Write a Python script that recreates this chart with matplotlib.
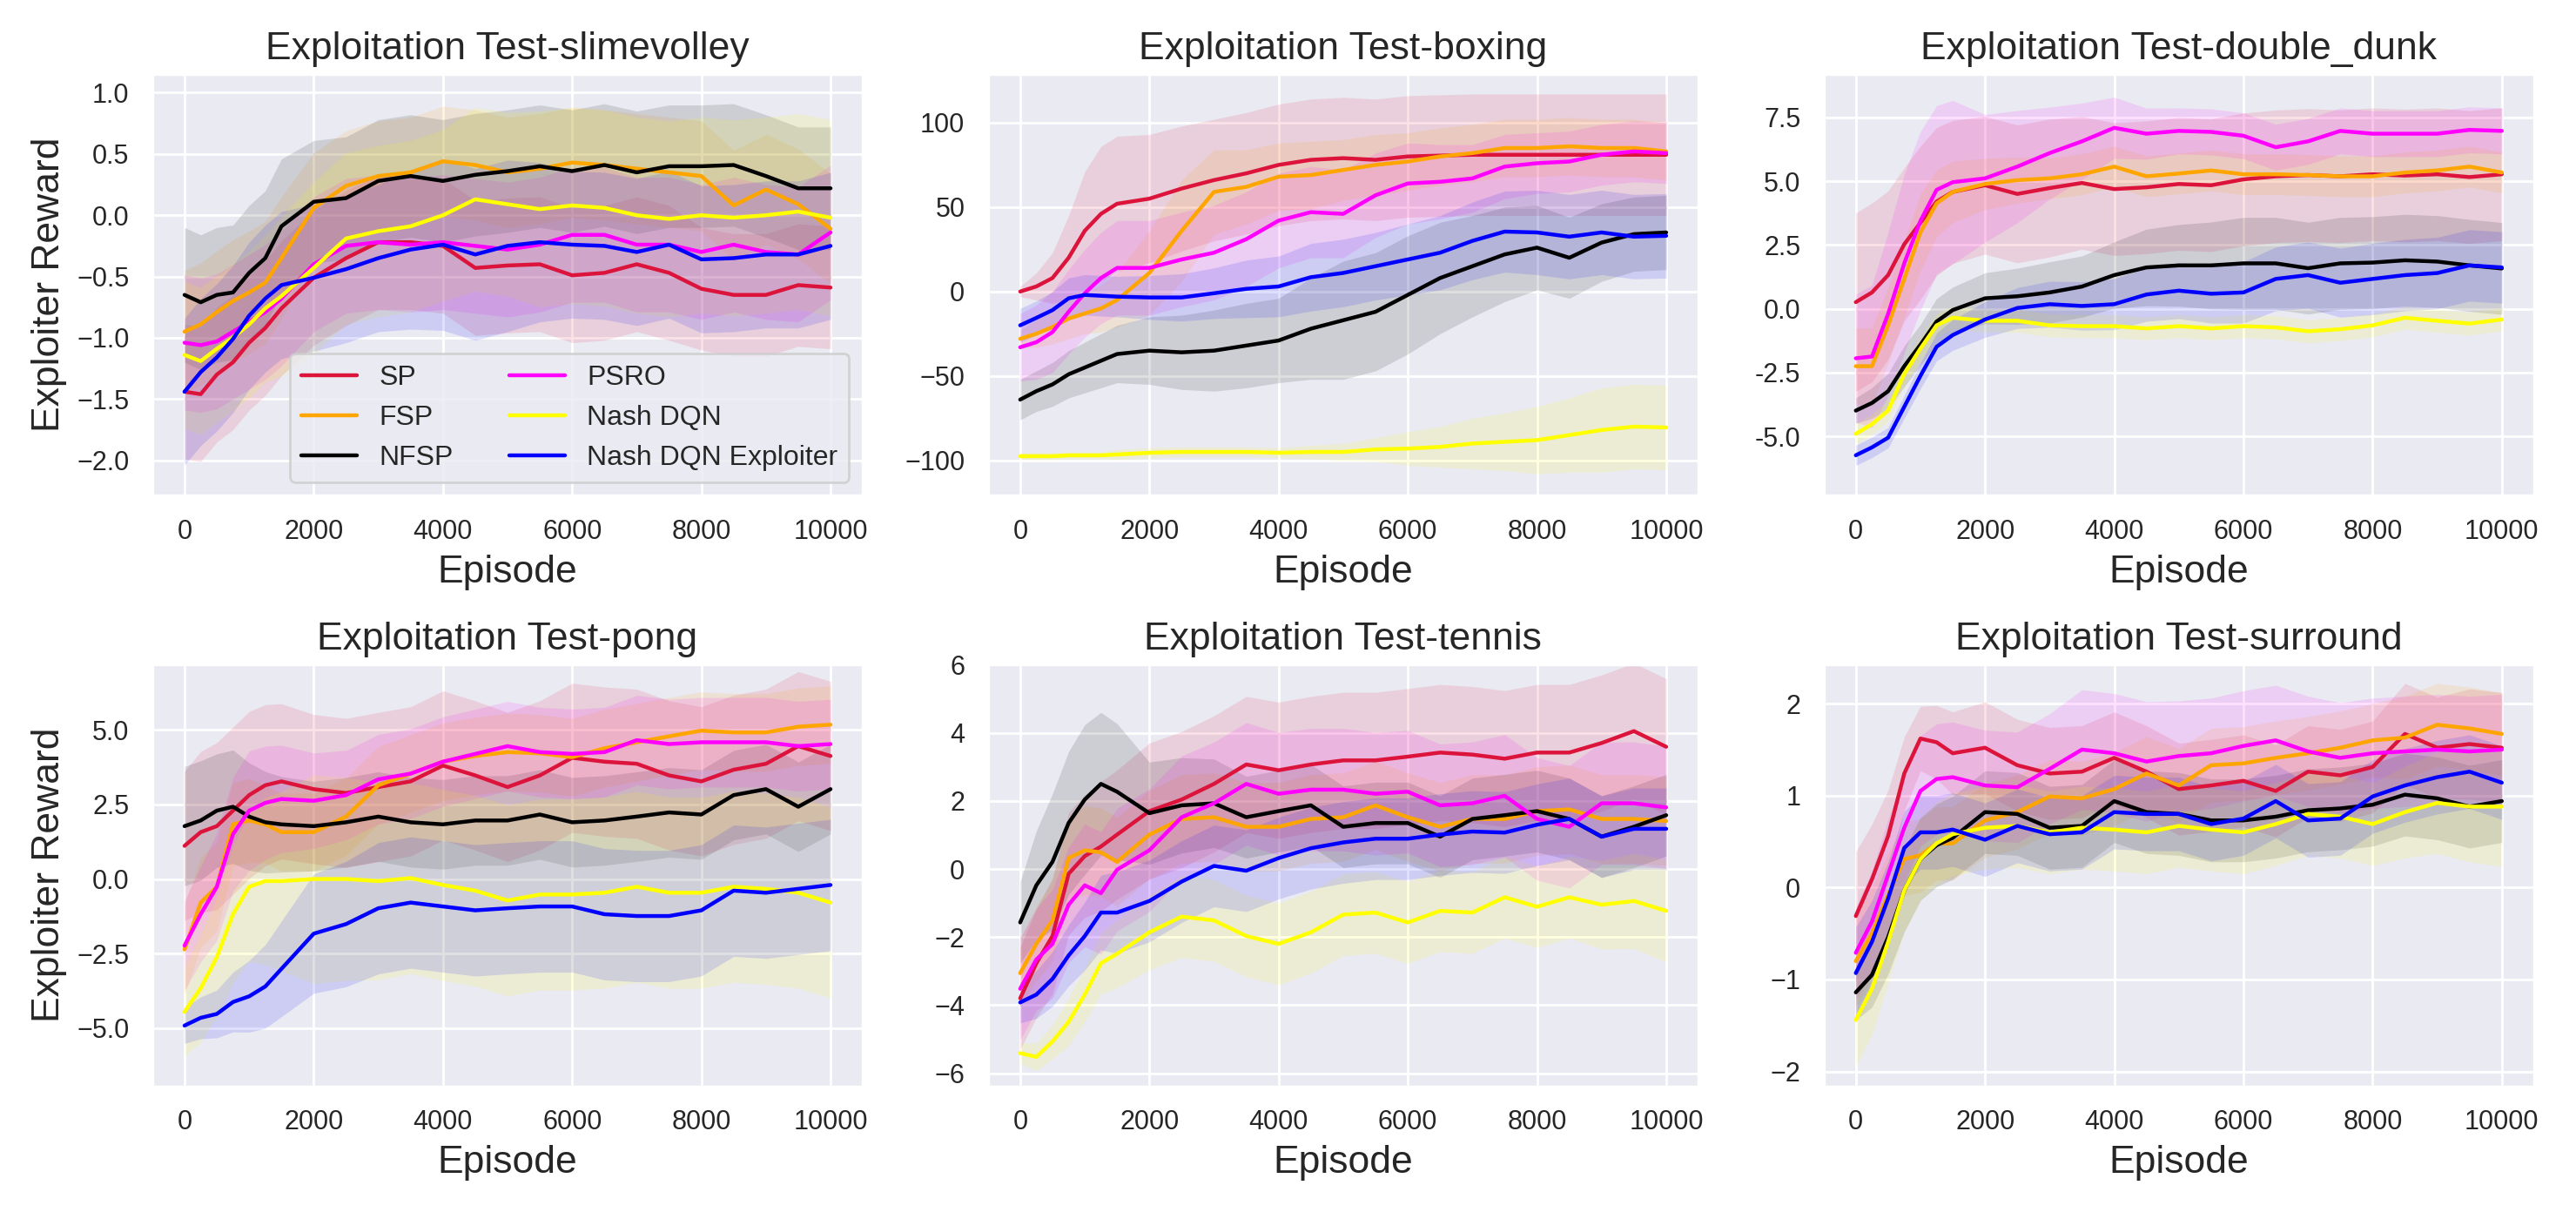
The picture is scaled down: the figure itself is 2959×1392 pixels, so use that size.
import numpy as np
import matplotlib
matplotlib.use("Agg")
import matplotlib.pyplot as plt
import seaborn as sns

episodes = [0, 250, 500, 750, 1000, 1250, 1500, 2000, 2500, 3000, 3500, 4000,
            4500, 5000, 5500, 6000, 6500, 7000, 7500, 8000, 8500, 9000, 9500, 10000]

methods = ["SP", "FSP", "NFSP", "PSRO", "Nash DQN", "Nash DQN Exploiter"]
colors = ["crimson", "orange", "black", "magenta", "yellow", "blue"]
games = ["slimevolley", "boxing", "double_dunk", "pong", "tennis", "surround"]

# mean exploiter reward, one row per method (order as in `methods`)
slimevolley_mean = [
    [-1.44, -1.46, -1.30, -1.20, -1.04, -0.92, -0.76, -0.51, -0.35, -0.22, -0.22, -0.25,
     -0.43, -0.41, -0.40, -0.49, -0.47, -0.40, -0.47, -0.60, -0.65, -0.65, -0.57, -0.59],
    [-0.95, -0.89, -0.79, -0.70, -0.63, -0.55, -0.35, 0.06, 0.24, 0.32, 0.35, 0.44,
     0.41, 0.35, 0.38, 0.43, 0.41, 0.38, 0.35, 0.32, 0.08, 0.21, 0.09, -0.11],
    [-0.65, -0.71, -0.65, -0.63, -0.47, -0.35, -0.09, 0.11, 0.14, 0.28, 0.32, 0.28,
     0.33, 0.36, 0.40, 0.36, 0.41, 0.35, 0.40, 0.40, 0.41, 0.32, 0.22, 0.22],
    [-1.04, -1.06, -1.03, -0.95, -0.87, -0.79, -0.68, -0.40, -0.25, -0.22, -0.24, -0.22,
     -0.25, -0.28, -0.24, -0.16, -0.16, -0.24, -0.24, -0.30, -0.24, -0.30, -0.32, -0.14],
    [-1.14, -1.19, -1.09, -1.00, -0.89, -0.76, -0.66, -0.43, -0.19, -0.13, -0.09, 0.00,
     0.13, 0.09, 0.05, 0.08, 0.06, 0.00, -0.03, 0.00, -0.02, 0.00, 0.03, -0.02],
    [-1.44, -1.28, -1.16, -1.01, -0.82, -0.68, -0.57, -0.51, -0.44, -0.35, -0.28, -0.24,
     -0.32, -0.25, -0.22, -0.24, -0.25, -0.30, -0.24, -0.36, -0.35, -0.32, -0.32, -0.25],
]
slimevolley_std = [
    [0.55, 0.55, 0.55, 0.55, 0.55, 0.55, 0.55, 0.55, 0.55, 0.55, 0.55, 0.55,
     0.55, 0.55, 0.55, 0.55, 0.55, 0.55, 0.55, 0.5, 0.5, 0.5, 0.5, 0.5],
    [0.5, 0.5, 0.5, 0.5, 0.5, 0.5, 0.5, 0.45, 0.45, 0.45, 0.45, 0.45,
     0.45, 0.45, 0.45, 0.45, 0.45, 0.45, 0.45, 0.45, 0.45, 0.45, 0.45, 0.45],
    [0.55, 0.55, 0.55, 0.55, 0.55, 0.55, 0.55, 0.5, 0.5, 0.5, 0.5, 0.5,
     0.5, 0.5, 0.5, 0.5, 0.5, 0.5, 0.5, 0.5, 0.5, 0.5, 0.5, 0.5],
    [0.55, 0.55, 0.55, 0.55, 0.55, 0.55, 0.55, 0.55, 0.55, 0.55, 0.55, 0.55,
     0.55, 0.55, 0.55, 0.55, 0.55, 0.55, 0.55, 0.55, 0.55, 0.55, 0.55, 0.55],
    [0.6, 0.6, 0.6, 0.6, 0.6, 0.6, 0.65, 0.7, 0.7, 0.7, 0.7, 0.7,
     0.75, 0.75, 0.8, 0.8, 0.8, 0.8, 0.8, 0.8, 0.8, 0.8, 0.8, 0.8],
    [0.6, 0.6, 0.6, 0.6, 0.6, 0.6, 0.6, 0.6, 0.6, 0.6, 0.65, 0.7,
     0.7, 0.7, 0.65, 0.6, 0.6, 0.6, 0.6, 0.6, 0.6, 0.6, 0.6, 0.6],
]

boxing_mean = [
    [0, 3, 8, 20, 36, 46, 52, 55, 61, 66, 70, 75, 78, 79, 78, 80, 80.5, 81, 81, 81, 81, 81, 81, 81],
    [-28, -25, -21, -16, -13, -10, -5, 11, 36, 59, 62, 68, 69, 72, 75, 77, 80, 82, 85, 85, 86, 85, 85, 83],
    [-64, -59, -55, -49, -45, -41, -37, -35, -36, -35, -32, -29, -22, -17, -12, -2, 8, 15, 22, 26, 20, 29, 34, 35],
    [-33, -30, -24, -12, -1, 8, 14, 14, 19, 23, 31, 42, 47, 46, 57, 64, 65, 67, 74, 76, 77, 81, 83, 82],
    [-97.5, -97.5, -97.5, -97, -97, -97, -96.5, -95.5, -95, -95, -95, -95.5,
     -95, -95, -93.5, -93, -92, -90, -89, -88, -85, -82, -80, -80.5],
    [-20, -15.6, -11, -4, -2, -2.5, -3, -3.5, -3.5, -1, 1.6, 3, 8.5, 11, 15, 19, 23, 30, 35.5, 35, 32.5, 35, 32.5, 33],
]
boxing_std = [
    [3, 8, 15, 25, 35, 40, 40, 38, 37, 36, 36, 36, 36, 36, 36, 36, 36, 36, 36, 36, 36, 36, 36, 36],
    [5, 8, 10, 12, 12, 14, 16, 25, 30, 25, 22, 20, 20, 18, 18, 17, 17, 17, 17, 17, 17, 17, 17, 17],
    [12, 12, 13, 14, 15, 16, 17, 20, 22, 24, 25, 25, 30, 35, 35, 35, 33, 30, 28, 25, 24, 23, 22, 22],
    [20, 22, 24, 25, 26, 27, 28, 28, 28, 28, 28, 28, 27, 26, 25, 24, 22, 20, 19, 18, 18, 18, 18, 18],
    [2, 2, 2, 2, 2, 2, 3, 3, 3, 3, 3, 3, 4, 5, 7, 10, 12, 15, 17, 20, 22, 25, 25, 25],
    [10, 10, 11, 12, 12, 12, 12, 13, 14, 15, 17, 18, 20, 20, 20, 21, 22, 23, 24, 25, 25, 25, 25, 25],
]

double_dunk_mean = [
    [0.26, 0.64, 1.32, 2.53, 3.37, 4.20, 4.58, 4.84, 4.50, 4.73, 4.93, 4.69,
     4.76, 4.89, 4.84, 5.07, 5.19, 5.24, 5.19, 5.27, 5.22, 5.27, 5.16, 5.27],
    [-2.25, -2.25, -0.65, 1.17, 2.99, 4.13, 4.58, 4.89, 5.04, 5.11, 5.27, 5.57,
     5.19, 5.30, 5.42, 5.27, 5.27, 5.24, 5.19, 5.19, 5.34, 5.42, 5.57, 5.34],
    [-3.99, -3.69, -3.23, -2.25, -1.41, -0.50, -0.05, 0.41, 0.49, 0.64, 0.87, 1.32,
     1.62, 1.70, 1.70, 1.78, 1.78, 1.59, 1.78, 1.81, 1.90, 1.85, 1.70, 1.58],
    [-1.94, -1.87, -0.20, 1.78, 3.44, 4.66, 4.96, 5.11, 5.57, 6.10, 6.56, 7.09,
     6.86, 6.97, 6.93, 6.78, 6.33, 6.56, 6.97, 6.86, 6.86, 6.86, 7.01, 6.97],
    [-4.90, -4.52, -3.99, -2.55, -1.56, -0.65, -0.35, -0.47, -0.47, -0.65, -0.68, -0.68,
     -0.77, -0.68, -0.77, -0.68, -0.73, -0.88, -0.80, -0.65, -0.35, -0.47, -0.58, -0.42],
    [-5.74, -5.43, -5.05, -3.84, -2.63, -1.49, -1.03, -0.42, 0.03, 0.18, 0.11, 0.18,
     0.56, 0.71, 0.59, 0.64, 1.17, 1.32, 1.02, 1.17, 1.32, 1.40, 1.70, 1.62],
]
double_dunk_std = [
    [3.5, 3.5, 3.3, 3.0, 3.0, 2.9, 2.8, 2.7, 2.7, 2.7, 2.6, 2.6, 2.6, 2.6, 2.6, 2.6, 2.6, 2.6, 2.6, 2.6, 2.6, 2.6, 2.6, 2.6],
    [1.5, 1.5, 1.5, 1.5, 1.5, 1.3, 1.2, 1.0, 0.9, 0.8, 0.8, 0.8, 0.8, 0.8, 0.8, 0.8, 0.8, 0.8, 0.8, 0.8, 0.8, 0.8, 0.8, 0.8],
    [0.5, 0.6, 0.7, 0.8, 0.8, 0.9, 0.9, 1.0, 1.1, 1.2, 1.2, 1.3, 1.5, 1.6, 1.7, 1.8, 1.8, 1.8, 1.8, 1.8, 1.8, 1.8, 1.8, 1.8],
    [2.5, 2.8, 3.2, 3.5, 3.5, 3.3, 3.2, 2.5, 2.2, 1.8, 1.5, 1.2, 1.0, 0.9, 0.9, 0.9, 0.9, 0.9, 0.9, 0.9, 0.9, 0.9, 0.9, 0.9],
    [0.4, 0.4, 0.4, 0.45, 0.45, 0.45, 0.45, 0.45, 0.45, 0.45, 0.45, 0.45, 0.45, 0.45, 0.45, 0.45, 0.45, 0.45, 0.45, 0.45, 0.45, 0.45, 0.45, 0.45],
    [0.4, 0.4, 0.4, 0.45, 0.5, 0.55, 0.6, 0.7, 0.8, 0.9, 0.95, 1.0, 1.05, 1.1, 1.15, 1.2, 1.25, 1.3, 1.35, 1.4, 1.4, 1.4, 1.4, 1.4],
]

pong_mean = [
    [1.11, 1.57, 1.77, 2.29, 2.81, 3.14, 3.27, 3.01, 2.88, 3.08, 3.27, 3.80,
     3.47, 3.08, 3.47, 4.06, 3.93, 3.86, 3.47, 3.27, 3.66, 3.86, 4.45, 4.12],
    [-2.36, -0.79, -0.26, 1.83, 1.96, 1.83, 1.57, 1.57, 2.09, 3.14, 3.53, 3.93,
     4.12, 4.25, 4.21, 4.08, 4.38, 4.58, 4.78, 4.97, 4.91, 4.91, 5.10, 5.17],
    [1.77, 1.96, 2.29, 2.42, 2.09, 1.90, 1.83, 1.77, 1.90, 2.09, 1.90, 1.83,
     1.96, 1.96, 2.16, 1.90, 1.96, 2.09, 2.23, 2.16, 2.81, 3.01, 2.42, 3.01],
    [-2.23, -1.18, -0.26, 1.50, 2.29, 2.55, 2.68, 2.62, 2.81, 3.34, 3.53, 3.93,
     4.19, 4.45, 4.25, 4.19, 4.25, 4.65, 4.52, 4.58, 4.58, 4.58, 4.45, 4.52],
    [-4.45, -3.66, -2.62, -1.18, -0.26, -0.07, -0.07, 0.00, 0.00, -0.07, 0.03, -0.20,
     -0.39, -0.72, -0.52, -0.52, -0.46, -0.26, -0.46, -0.46, -0.26, -0.33, -0.46, -0.79],
    [-4.91, -4.65, -4.52, -4.12, -3.93, -3.60, -3.01, -1.83, -1.51, -0.98, -0.79, -0.92,
     -1.05, -0.98, -0.92, -0.92, -1.18, -1.24, -1.24, -1.05, -0.39, -0.46, -0.33, -0.20],
]
pong_std = [
    [2.5, 2.7, 2.8, 2.8, 2.8, 2.7, 2.6, 2.5, 2.5, 2.5, 2.5, 2.5, 2.5, 2.5, 2.5, 2.5, 2.5, 2.5, 2.5, 2.5, 2.5, 2.5, 2.5, 2.5],
    [1.5, 1.5, 1.5, 1.4, 1.4, 1.3, 1.3, 1.3, 1.3, 1.3, 1.3, 1.3, 1.3, 1.3, 1.3, 1.3, 1.3, 1.3, 1.3, 1.3, 1.3, 1.3, 1.3, 1.3],
    [2.0, 2.0, 1.9, 1.9, 1.8, 1.7, 1.6, 1.5, 1.5, 1.5, 1.5, 1.5, 1.5, 1.5, 1.5, 1.5, 1.5, 1.5, 1.5, 1.5, 1.5, 1.5, 1.5, 1.5],
    [1.5, 1.6, 1.8, 1.9, 2.0, 1.9, 1.8, 1.6, 1.5, 1.5, 1.5, 1.5, 1.5, 1.5, 1.5, 1.5, 1.5, 1.5, 1.5, 1.5, 1.5, 1.5, 1.5, 1.5],
    [1.5, 1.8, 2.0, 2.3, 2.5, 2.8, 3.0, 3.5, 3.4, 3.3, 3.2, 3.2, 3.2, 3.2, 3.2, 3.2, 3.2, 3.2, 3.2, 3.2, 3.2, 3.2, 3.2, 3.2],
    [0.6, 0.7, 0.8, 1.0, 1.2, 1.4, 1.6, 2.0, 2.1, 2.2, 2.2, 2.2, 2.2, 2.2, 2.2, 2.2, 2.2, 2.2, 2.2, 2.2, 2.2, 2.2, 2.2, 2.2],
]

tennis_mean = [
    [-3.80, -2.77, -1.97, -0.14, 0.38, 0.66, 1.01, 1.70, 2.04, 2.50, 3.07, 2.90,
     3.07, 3.19, 3.19, 3.30, 3.42, 3.36, 3.24, 3.42, 3.42, 3.70, 4.05, 3.59],
    [-3.06, -2.20, -1.51, 0.32, 0.55, 0.49, 0.21, 1.01, 1.47, 1.52, 1.24, 1.24,
     1.47, 1.52, 1.87, 1.52, 1.24, 1.47, 1.47, 1.70, 1.75, 1.47, 1.47, 1.41],
    [-1.57, -0.48, 0.21, 1.35, 2.04, 2.50, 2.27, 1.64, 1.87, 1.93, 1.52, 1.70,
     1.87, 1.24, 1.35, 1.35, 0.95, 1.47, 1.58, 1.70, 1.47, 0.95, 1.24, 1.58],
    [-3.52, -2.66, -2.20, -1.05, -0.48, -0.71, -0.02, 0.55, 1.52, 1.93, 2.50, 2.21,
     2.33, 2.33, 2.21, 2.27, 1.87, 1.93, 2.15, 1.47, 1.24, 1.93, 1.93, 1.81],
    [-5.41, -5.52, -5.07, -4.49, -3.69, -2.77, -2.49, -1.86, -1.40, -1.51, -1.97, -2.20,
     -1.86, -1.34, -1.28, -1.57, -1.23, -1.28, -0.83, -1.11, -0.83, -1.05, -0.94, -1.23],
    [-3.92, -3.69, -3.23, -2.54, -1.97, -1.28, -1.28, -0.94, -0.37, 0.09, -0.05, 0.32,
     0.61, 0.78, 0.89, 0.89, 1.01, 1.10, 1.07, 1.30, 1.47, 0.95, 1.18, 1.18],
]
tennis_std = [
    [1.5, 1.6, 1.7, 1.8, 1.8, 1.9, 1.9, 2.0, 2.0, 2.0, 2.0, 2.0, 2.0, 2.0, 2.0, 2.0, 2.0, 2.0, 2.0, 2.0, 2.0, 2.0, 2.0, 2.0],
    [1.0, 1.1, 1.2, 1.2, 1.3, 1.3, 1.3, 1.3, 1.3, 1.3, 1.3, 1.3, 1.3, 1.3, 1.3, 1.3, 1.3, 1.3, 1.3, 1.3, 1.3, 1.3, 1.3, 1.3],
    [1.2, 1.6, 2.0, 2.1, 2.2, 2.1, 2.0, 1.5, 1.4, 1.3, 1.2, 1.2, 1.2, 1.2, 1.2, 1.2, 1.2, 1.2, 1.2, 1.2, 1.2, 1.2, 1.2, 1.2],
    [1.5, 1.5, 1.6, 1.7, 1.8, 1.8, 1.8, 1.8, 1.8, 1.8, 1.8, 1.8, 1.8, 1.8, 1.8, 1.8, 1.8, 1.8, 1.8, 1.8, 1.8, 1.8, 1.8, 1.8],
    [0.3, 0.4, 0.5, 0.7, 0.8, 0.9, 1.0, 1.1, 1.2, 1.2, 1.2, 1.2, 1.2, 1.2, 1.2, 1.2, 1.2, 1.2, 1.2, 1.2, 1.2, 1.3, 1.4, 1.5],
    [0.6, 0.7, 0.8, 0.9, 1.0, 1.1, 1.2, 1.2, 1.2, 1.2, 1.2, 1.2, 1.2, 1.2, 1.2, 1.2, 1.2, 1.2, 1.2, 1.2, 1.2, 1.2, 1.2, 1.2],
]

surround_mean = [
    [-0.31, 0.09, 0.56, 1.24, 1.62, 1.58, 1.46, 1.52, 1.33, 1.24, 1.26, 1.41,
     1.26, 1.07, 1.11, 1.16, 1.05, 1.26, 1.22, 1.31, 1.67, 1.52, 1.56, 1.52],
    [-0.80, -0.50, -0.08, 0.31, 0.35, 0.48, 0.48, 0.73, 0.82, 0.99, 0.97, 1.07,
     1.24, 1.11, 1.33, 1.35, 1.41, 1.46, 1.52, 1.60, 1.63, 1.77, 1.73, 1.67],
    [-1.14, -0.95, -0.54, -0.03, 0.31, 0.46, 0.54, 0.82, 0.80, 0.65, 0.67, 0.94,
     0.82, 0.80, 0.73, 0.73, 0.77, 0.84, 0.86, 0.90, 1.01, 0.97, 0.88, 0.94],
    [-0.71, -0.37, 0.14, 0.65, 1.05, 1.18, 1.20, 1.11, 1.09, 1.29, 1.50, 1.46,
     1.37, 1.43, 1.46, 1.54, 1.60, 1.48, 1.41, 1.46, 1.48, 1.50, 1.48, 1.50],
    [-1.44, -1.10, -0.59, -0.03, 0.31, 0.48, 0.58, 0.65, 0.67, 0.60, 0.65, 0.63,
     0.60, 0.67, 0.63, 0.60, 0.69, 0.80, 0.77, 0.69, 0.82, 0.92, 0.88, 0.88],
    [-0.93, -0.59, -0.12, 0.43, 0.60, 0.60, 0.63, 0.52, 0.67, 0.58, 0.60, 0.82,
     0.80, 0.80, 0.69, 0.75, 0.94, 0.73, 0.75, 0.99, 1.11, 1.20, 1.26, 1.14],
]
surround_std = [
    [0.7, 0.6, 0.5, 0.4, 0.35, 0.4, 0.45, 0.5, 0.5, 0.5, 0.5, 0.5, 0.5, 0.5, 0.5, 0.5, 0.5, 0.5, 0.5, 0.5, 0.55, 0.55, 0.6, 0.6],
    [0.5, 0.5, 0.45, 0.4, 0.4, 0.4, 0.4, 0.4, 0.4, 0.4, 0.4, 0.4, 0.4, 0.4, 0.4, 0.4, 0.4, 0.4, 0.4, 0.4, 0.45, 0.45, 0.45, 0.45],
    [0.3, 0.35, 0.4, 0.45, 0.45, 0.45, 0.45, 0.45, 0.45, 0.45, 0.45, 0.45, 0.45, 0.45, 0.45, 0.45, 0.45, 0.45, 0.45, 0.45, 0.45, 0.45, 0.45, 0.45],
    [0.5, 0.55, 0.6, 0.6, 0.6, 0.6, 0.6, 0.6, 0.6, 0.6, 0.65, 0.65, 0.65, 0.6, 0.6, 0.6, 0.6, 0.6, 0.6, 0.6, 0.6, 0.6, 0.6, 0.6],
    [0.5, 0.5, 0.45, 0.45, 0.45, 0.45, 0.45, 0.45, 0.45, 0.45, 0.45, 0.45, 0.45, 0.45, 0.45, 0.45, 0.45, 0.45, 0.45, 0.45, 0.5, 0.55, 0.6, 0.65],
    [0.5, 0.45, 0.4, 0.4, 0.4, 0.4, 0.4, 0.4, 0.4, 0.4, 0.4, 0.4, 0.4, 0.4, 0.4, 0.4, 0.4, 0.4, 0.4, 0.4, 0.4, 0.4, 0.4, 0.4],
]

means = [slimevolley_mean, boxing_mean, double_dunk_mean, pong_mean, tennis_mean, surround_mean]
stds = [slimevolley_std, boxing_std, double_dunk_std, pong_std, tennis_std, surround_std]
ylims = [(-2.29, 1.155), (-121, 129), (-7.33, 9.21), (-6.94, 7.2), (-6.38, 6.02), (-2.16, 2.43)]

sns.set_theme(style="darkgrid")
plt.rcParams["font.family"] = ["Liberation Sans", "DejaVu Sans"]

fig, axes = plt.subplots(2, 3, figsize=(14.795, 6.96), dpi=200)
x = np.array(episodes)

for k, ax in enumerate(axes.flat):
    for m in range(len(methods)):
        mu = np.array(means[k][m])
        sd = np.array(stds[k][m])
        ax.plot(x, mu, color=colors[m], lw=1.6, label=methods[m])
        ax.fill_between(x, mu - sd, mu + sd, color=colors[m], alpha=0.12, lw=0)
    ax.set_title("Exploitation Test-" + games[k], fontsize=16)
    ax.set_xlabel("Episode", fontsize=16)
    ax.set_ylim(*ylims[k])
    ax.set_xticks([0, 2000, 4000, 6000, 8000, 10000])
    ax.tick_params(labelsize=11)
    if k % 3 == 0:
        ax.set_ylabel("Exploiter Reward", fontsize=16)

# double_dunk uses plain hyphens on its tick labels
dd = axes[0, 2]
dd.set_yticks([-5.0, -2.5, 0.0, 2.5, 5.0, 7.5])
dd.set_yticklabels(["-5.0", "-2.5", "0.0", "2.5", "5.0", "7.5"])

axes[0, 0].legend(ncol=2, loc="lower right", fontsize=11.5)

fig.tight_layout()
fig.savefig("out.png", dpi=200)
